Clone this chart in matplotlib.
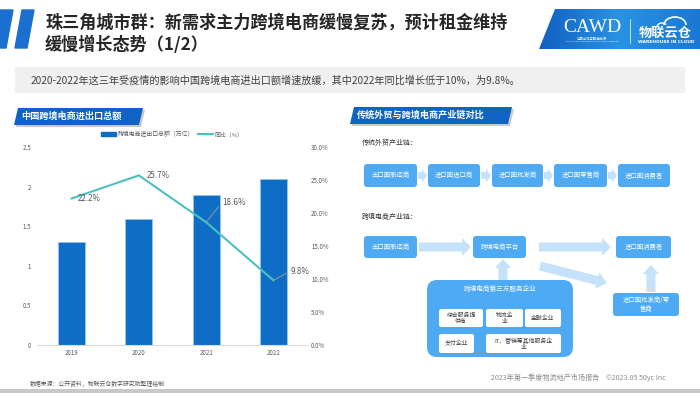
import numpy as np
import matplotlib.pyplot as plt
import matplotlib.patches as mpatches
from matplotlib.patches import FancyBboxPatch, Polygon, FancyArrow, Rectangle
from matplotlib.lines import Line2D
from matplotlib.colors import LinearSegmentedColormap

plt.rcParams['font.family'] = ['Noto Sans CJK SC', 'DejaVu Sans']

# data
years = ['2019', '2020', '2021', '2022']
totals = [1.30, 1.59, 1.90, 2.10]      # 万亿
growth = [22.2, 25.7, 18.6, 9.8]       # %
left_ticks = [0, 0.5, 1, 1.5, 2, 2.5]
right_ticks = [0, 5, 10, 15, 20, 25, 30]

title_lines = ['珠三角城市群：新需求主力跨境电商缓慢复苏，预计租金维持', '缓慢增长态势（1/2）']
summary = '2020-2022年这三年受疫情的影响中国跨境电商进出口额增速放缓，其中2022年同比增长低于10%，为9.8%。'
chain_old = ['出口国制造商', '进口国进口商', '进口国批发商', '进口国零售商', '进口国消费者']
chain_new = ['出口国制造商', '跨境电商平台', '进口国消费者']
services = ['综合服务提\n供商', '物流企\n业', '金融企业', '支付企业', 'IT、营销等其他服务企\n业']

W, H = 700, 393
fig = plt.figure(figsize=(7, 3.93), dpi=100)
fig.patch.set_facecolor('white')

# full-figure layer in pixel units for the slide decoration
deco = fig.add_axes([0, 0, 1, 1])
deco.set_xlim(0, W)
deco.set_ylim(H, 0)
deco.axis('off')

BLUE = '#1565c4'
BOX = '#4eaaf2'
ARROW = '#c6e2fb'

# header slabs + title
deco.add_patch(Polygon([(0, 10), (13, 10), (6, 48), (0, 48)], color='#1a6fd0'))
deco.add_patch(Polygon([(22, 10), (34, 10), (27, 48), (15, 48)], color='#1a6fd0'))
deco.text(45, 23, title_lines[0], fontsize=12.3, fontweight='bold', color='#262626', va='center')
deco.text(45, 44.5, title_lines[1], fontsize=12.3, fontweight='bold', color='#262626', va='center')

# logo block
logo = Polygon([(555, 9), (700, 9), (700, 49), (539, 49)], closed=True, facecolor='none', edgecolor='none')
deco.add_patch(logo)
grad = np.linspace(0, 1, 200).reshape(1, -1)
cm = LinearSegmentedColormap.from_list('lg', ['#1160c0', '#2a93e4', '#1a78d4'])
im = deco.imshow(grad, extent=(539, 700, 49, 9), cmap=cm, aspect='auto', zorder=1)
im.set_clip_path(logo)
deco.set_xlim(0, W)
deco.set_ylim(H, 0)
deco.text(592, 27, 'CAWD', family='Liberation Serif', fontsize=14, color='white', ha='center', va='center', zorder=3)
deco.text(592, 38.5, '中国仓储与配送协会', fontsize=2.4, color='white', ha='center', va='center', zorder=3)
deco.text(592, 41.5, 'CHINA ASSOCIATION OF WAREHOUSING AND DISTRIBUTION', family='DejaVu Sans',
          fontsize=1.3, color='white', ha='center', va='center', zorder=3)
deco.plot([630, 630], [19, 43], color='white', lw=0.5, zorder=3)
deco.add_patch(mpatches.Arc((675, 25), 22, 16, theta1=180, theta2=360, color='white', lw=1.2, zorder=3))
deco.add_patch(mpatches.Arc((662, 27), 10, 8, theta1=180, theta2=330, color='white', lw=1.0, zorder=3))
deco.text(665, 32.5, '物联云仓', fontsize=9.5, fontweight='bold', color='white', ha='center', va='center', zorder=4)
deco.text(666, 42, 'WAREHOUSE IN CLOUD', family='DejaVu Sans', fontsize=3.2, fontweight='bold',
          color='white', ha='center', va='center', zorder=4)

# summary strip
deco.add_patch(Rectangle((15, 67), 670, 26, color='#f0f0f0', lw=0))
deco.text(31, 80.5, summary, fontsize=7.3, color='#404040', va='center')


def banner(x0, y0, x1, y1, text):
    deco.add_patch(Polygon([(x0 + 6, y0 + 2), (x1 + 2, y0 + 2), (x1 - 2, y1 + 2), (x0 + 2, y1 + 2)],
                           color='#c9c9c9', lw=0))
    deco.add_patch(Polygon([(x0 + 4, y0), (x1, y0), (x1 - 4, y1), (x0, y1)], color='#0f63c2', lw=0))
    deco.text(x0 + 7, (y0 + y1) / 2, text, fontsize=6.6, fontweight='bold', color='white', va='center')


banner(14, 108, 143, 125, '中国跨境电商进出口总额')
banner(350, 107, 512, 124, '传统外贸与跨境电商产业链对比')

# ---- chart ----
ax = fig.add_axes([38 / W, 1 - 345 / H, 269 / W, 198 / H])
x = np.arange(len(years))
ax.bar(x, totals, width=0.4, color='#0e6ec6', edgecolor='#9cc4ea', lw=0.6, zorder=2)
ax.set_xlim(-0.5, 3.5)
ax.set_ylim(0, 2.5)
ax.set_yticks(left_ticks)
ax.set_yticklabels([f'{t:g}' for t in left_ticks])
ax.set_xticks(x)
ax.set_xticklabels(years)
for s in ['top', 'left', 'right']:
    ax.spines[s].set_visible(False)
ax.spines['bottom'].set_color('#d9d9d9')
ax.tick_params(length=0, labelsize=4.4, labelcolor='#595959')
ax.tick_params(axis='y', pad=5)
ax.tick_params(axis='x', pad=3)

ax2 = ax.twinx()
ax2.plot(x, growth, color='#4cc0c0', lw=1.5, zorder=3)
ax2.set_ylim(0, 30)
ax2.set_yticks(right_ticks)
ax2.set_yticklabels([f'{t:.1f}%' for t in right_ticks])
for s in ax2.spines.values():
    s.set_visible(False)
ax2.tick_params(length=0, labelsize=4.4, labelcolor='#595959', pad=3)

lab_kw = dict(textcoords='offset points', fontsize=5.8, color='#595959', va='center', ha='left')
ax2.annotate(f'{growth[0]}%', (0, growth[0]), xytext=(4.5, 0), **lab_kw)
ax2.annotate(f'{growth[1]}%', (1, growth[1]), xytext=(6, 0), **lab_kw)
ax2.annotate(f'{growth[2]}%', (2, growth[2]), xytext=(11.5, 14.4),
             arrowprops=dict(arrowstyle='-', color='#a0a0a0', lw=0.6, relpos=(0, 0.5),
                             shrinkA=1, shrinkB=0), **lab_kw)
ax2.annotate(f'{growth[3]}%', (3, growth[3]), xytext=(12.2, 6.5),
             arrowprops=dict(arrowstyle='-', color='#a0a0a0', lw=0.6, relpos=(0, 0.5),
                             shrinkA=1, shrinkB=0), **lab_kw)

handles = [mpatches.Patch(color='#0e6ec6'), Line2D([], [], color='#4cc0c0', lw=1.5)]
leg = fig.legend(handles, ['跨境电商进出口总额（万亿）', '同比（%）'], loc='center',
                 bbox_to_anchor=(172 / W, 1 - 134 / H), ncol=2, frameon=False, fontsize=4.2,
                 handlelength=2.6, handleheight=0.5, columnspacing=0.6, handletextpad=0.3)
for t in leg.get_texts():
    t.set_color('#595959')

# ---- right diagram ----
def box(x0, x1, y0, y1, text, fc=BOX, tc='white', fs=4.6, r=3):
    deco.add_patch(FancyBboxPatch((x0, y0), x1 - x0, y1 - y0,
                                  boxstyle=f'round,pad=0,rounding_size={r}', fc=fc, ec='none'))
    deco.text((x0 + x1) / 2, (y0 + y1) / 2, text, fontsize=fs, color=tc,
              ha='center', va='center', linespacing=1.3)


def arrow(x0, y0, x1, y1, w, hw, hl):
    deco.add_patch(FancyArrow(x0, y0, x1 - x0, y1 - y0, width=w, head_width=hw, head_length=hl,
                              length_includes_head=True, color=ARROW, lw=0))


deco.text(362, 143, '传统外贸产业链：', fontsize=5, color='#333333', va='center')
deco.text(362, 217, '跨境电商产业链：', fontsize=5, color='#333333', va='center')

old_x = [(364, 417), (428, 480), (492, 543), (554, 607), (618, 670)]
for i, (name, (x0, x1)) in enumerate(zip(chain_old, old_x)):
    box(x0, x1, 164, 187, name)
    if i < len(old_x) - 1:
        arrow(x1 + 1, 175.5, old_x[i + 1][0] - 1, 175.5, 7, 14, 5)

new_x = [(364, 417), (473, 526), (616, 671)]
for name, (x0, x1) in zip(chain_new, new_x):
    box(x0, x1, 236, 258, name)
arrow(419, 247, 471, 247, 9, 18, 9)
arrow(539, 247, 611, 247, 9, 18, 9)
arrow(540, 266, 607, 283, 9, 17, 10)
arrow(503, 281, 503, 259, 9, 16, 9)
arrow(651, 292, 651, 265, 9, 16, 9)

box(427, 573, 280, 357, '', r=10)
deco.text(500, 289, '跨境电商第三方服务企业', fontsize=4.8, color='white', ha='center', va='center')
svc_pos = [(439, 483, 309, 327), (486, 523, 309, 327), (525, 561, 309, 327),
           (439, 474, 334, 353), (486, 561, 334, 353)]
for name, (x0, x1, y0, y1) in zip(services, svc_pos):
    box(x0, x1, y0, y1, name, fc='white', tc='#404040', fs=4.2, r=2)

box(613, 679, 293, 316, '进口国批发商/零\n售商', fs=4.6)

# footer
deco.text(30, 384, '数据来源：公开资料，物联云仓数字研究院整理绘制', fontsize=4.2, color='#595959', va='center')
deco.text(491, 378, '2023年第一季度物流地产市场报告    ©2023.05 50yc Inc', fontsize=5.1,
          color='#8c8c8c', va='center')
deco.add_patch(Rectangle((0, 389), W, 4, color='#c8c8c8', lw=0))

fig.savefig('out.png', dpi=100)
